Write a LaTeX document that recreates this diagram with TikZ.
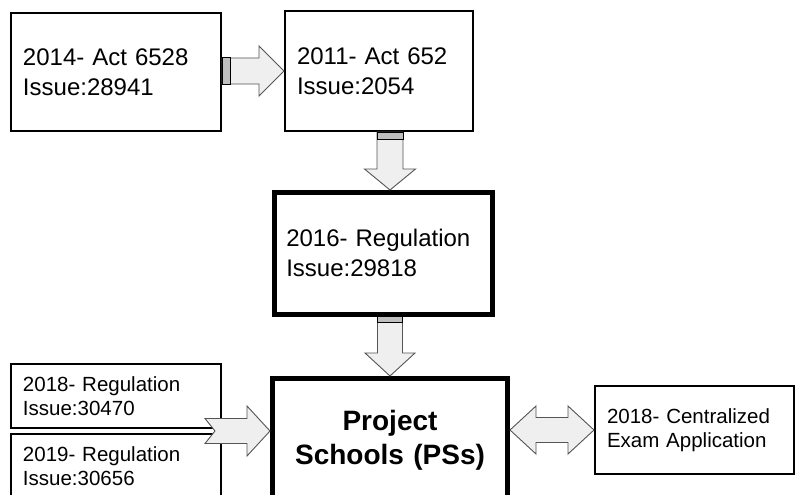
\documentclass[tikz,border=0pt]{standalone}
\usepackage{fontspec}
\setmainfont{Liberation Sans}
\usetikzlibrary{calc}

\definecolor{arrowfill}{HTML}{EFEFEF}
\definecolor{arrowline}{HTML}{555555}

\tikzset{
  box/.style={draw=black, fill=white, line width=2pt, rectangle, anchor=north west,
    inner xsep=12pt, inner ysep=0pt, align=left,
    font=\fontsize{24}{30}\selectfont},
  thickbox/.style={box, line width=4.5pt},
  smallbox/.style={box, font=\fontsize{20.5}{24.5}\selectfont},
  hubbox/.style={box, line width=5pt, align=center,
    font=\fontsize{28}{34}\selectfont\bfseries},
  blk/.style={fill=arrowfill, draw=arrowline, line width=0.9pt, line join=miter},
  band/.style={fill=gray!50, draw=black, line width=1pt},
}

% block arrows: #1 tail, #2 tip, #3 shaft half-width, #4 head half-width, #5 head length
\newcommand\rightblock[5]{%
  \draw[blk] let \p1=(#1), \p2=(#2) in
    (\x1,\y2+#3) -- (\x2-#5,\y2+#3) -- (\x2-#5,\y2+#4) -- (\x2,\y2)
    -- (\x2-#5,\y2-#4) -- (\x2-#5,\y2-#3) -- (\x1,\y2-#3) -- cycle;}
\newcommand\downblock[5]{%
  \draw[blk] let \p1=(#1), \p2=(#2) in
    (\x2-#3,\y1) -- (\x2-#3,\y2+#5) -- (\x2-#4,\y2+#5) -- (\x2,\y2)
    -- (\x2+#4,\y2+#5) -- (\x2+#3,\y2+#5) -- (\x2+#3,\y1) -- cycle;}
% notched tail: #6 notch depth
\newcommand\notchblock[6]{%
  \draw[blk] let \p1=(#1), \p2=(#2) in
    (\x1,\y2+#3) -- (\x2-#5,\y2+#3) -- (\x2-#5,\y2+#4) -- (\x2,\y2)
    -- (\x2-#5,\y2-#4) -- (\x2-#5,\y2-#3) -- (\x1,\y2-#3) -- (\x1+#6,\y2) -- cycle;}
% two heads: #1 left tip, #2 right tip
\newcommand\twoblock[5]{%
  \draw[blk] let \p1=(#1), \p2=(#2) in
    (\x1,\y2) -- (\x1+#5,\y2+#4) -- (\x1+#5,\y2+#3) -- (\x2-#5,\y2+#3)
    -- (\x2-#5,\y2+#4) -- (\x2,\y2) -- (\x2-#5,\y2-#4) -- (\x2-#5,\y2-#3)
    -- (\x1+#5,\y2-#3) -- (\x1+#5,\y2-#4) -- cycle;}

\begin{document}
\begin{tikzpicture}[x=1pt, y=-1pt]
  \useasboundingbox (0,0) rectangle (795,495);
  \fill[white] (0,0) rectangle (795,495);
  \clip (0,0) rectangle (795,495);

  % statute and regulation boxes
  \node[box, minimum width=210pt, minimum height=118pt, text width=186pt] (a) at (10,12)
    {2014- Act 6528\\Issue:28941};
  \node[box, minimum width=188pt, minimum height=120pt, text width=164pt] (b) at (284,10)
    {2011- Act 652\\Issue:2054};
  \node[thickbox, minimum width=218pt, minimum height=122pt, text width=194pt] (c) at (272,190)
    {2016- Regulation\\Issue:29818};
  \node[smallbox, minimum width=210pt, minimum height=64pt, text width=186pt] (e) at (10,363)
    {2018- Regulation\\Issue:30470};
  \node[smallbox, minimum width=210pt, minimum height=64pt, text width=186pt] (f) at (10,433)
    {2019- Regulation\\Issue:30656};
  \node[hubbox, minimum width=235pt, minimum height=124pt, text width=211pt] (d) at (270,376)
    {Project\\Schools (PSs)};
  \node[smallbox, minimum width=199pt, minimum height=88pt, text width=175pt] (g) at (594,385)
    {2018- Centralized\\Exam Application};

  % anchor points of the block arrows
  \coordinate (ab1) at ($(a.east)+(0,-1)$);
  \coordinate (ab2) at (b.west);
  \coordinate (bc1) at ($(b.south)+(11,0)$);
  \coordinate (bc2) at (bc1 |- c.north);
  \coordinate (cd2) at (d.north);
  \coordinate (cd1) at (cd2 |- c.south);
  \coordinate (ef)  at ($(e.south east)!0.5!(f.north east)$);
  \coordinate (ed1) at ($(ef)+(-17,0)$);
  \coordinate (ed2) at (ef -| d.west);
  \coordinate (dg2) at (g.west);
  \coordinate (dg1) at (dg2 -| d.east);

  % 2014 act -> 2011 act
  \rightblock{ab1}{ab2}{13pt}{25pt}{25pt}
  \draw[band] let \p1=(ab1) in (\x1,\y1+13pt) rectangle (\x1+8pt,\y1-13pt);

  % 2011 act -> 2016 regulation
  \downblock{bc1}{bc2}{13pt}{25.5pt}{21pt}
  \draw[band] let \p1=(bc1) in (\x1-13pt,\y1) rectangle (\x1+13pt,\y1-7pt);

  % 2016 regulation -> project schools
  \downblock{cd1}{cd2}{12.5pt}{25pt}{23pt}
  \draw[band] let \p1=(cd1) in (\x1-12.5pt,\y1) rectangle (\x1+12.5pt,\y1-6pt);

  % 2018/2019 regulations -> project schools
  \notchblock{ed1}{ed2}{12.5pt}{25pt}{23pt}{10pt}

  % project schools <-> centralized exam application
  \twoblock{dg1}{dg2}{12.5pt}{24pt}{26pt}
\end{tikzpicture}
\end{document}
